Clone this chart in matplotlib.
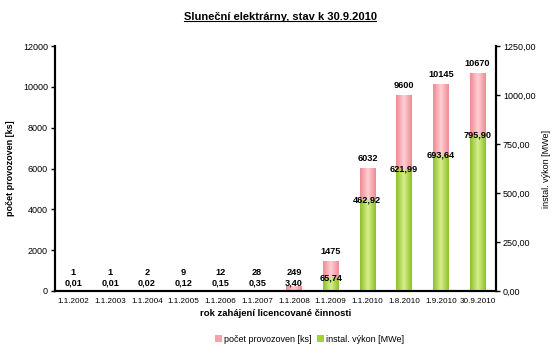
import matplotlib
matplotlib.use("Agg")
import matplotlib.pyplot as plt
import numpy as np
from matplotlib.ticker import FixedLocator, FuncFormatter
from matplotlib.colors import LinearSegmentedColormap
from matplotlib.patches import Patch

plt.rcParams['font.family'] = ['Liberation Sans', 'DejaVu Sans']

categories = ["1.1.2002", "1.1.2003", "1.1.2004", "1.1.2005", "1.1.2006", "1.1.2007",
              "1.1.2008", "1.1.2009", "1.1.2010", "1.8.2010", "1.9.2010", "30.9.2010"]
counts = [1, 1, 2, 9, 12, 28, 249, 1475, 6032, 9600, 10145, 10670]
power = [0.01, 0.01, 0.02, 0.12, 0.15, 0.35, 3.40, 65.74, 462.92, 621.99, 693.64, 795.90]

fig = plt.figure(figsize=(5.6, 3.56), dpi=100)
ax1 = fig.add_axes([55/560, 65/356, 441/560, 245/356])
ax2 = ax1.twinx()

x = np.arange(len(categories))
w = 0.42

pink_cmap = LinearSegmentedColormap.from_list("p", ["#EE8A94", "#FFD0D4", "#EE8A94"])
green_cmap = LinearSegmentedColormap.from_list("g", ["#8CBF26", "#D9F08E", "#8CBF26"])
grad = np.linspace(0, 1, 64).reshape(1, -1)

bars1 = ax1.bar(x, counts, width=w, color="#F5A3AA", zorder=2)
bars2 = ax2.bar(x, power, width=w, color="#A6D13E", zorder=2)

for ax, bars, cmap in ((ax1, bars1, pink_cmap), (ax2, bars2, green_cmap)):
    for b in bars:
        x0, y0 = b.get_x(), b.get_y()
        bw, bh = b.get_width(), b.get_height()
        if bh <= 0:
            continue
        im = ax.imshow(grad, extent=[x0, x0 + bw, y0, y0 + bh], cmap=cmap,
                       aspect='auto', zorder=2.1, interpolation='bicubic')
        im.set_clip_path(b)

ax1.set_xlim(-0.5, len(categories) - 0.5)
ax1.set_ylim(0, 12000)
ax2.set_ylim(0, 1250)

fs = 6.5
ax1.set_yticks(np.arange(0, 12001, 2000))
ax1.tick_params(axis='y', labelsize=fs, direction='out', length=3, width=1, pad=2)
ax2.set_yticks(np.arange(0, 1251, 250))
ax2.yaxis.set_major_formatter(FuncFormatter(lambda v, p: f"{v:.2f}".replace('.', ',')))
ax2.tick_params(axis='y', labelsize=fs, direction='out', length=3, width=1, pad=2)

ax1.xaxis.set_major_locator(FixedLocator(np.arange(-0.5, len(categories), 1)))
ax1.xaxis.set_minor_locator(FixedLocator(x))
ax1.set_xticklabels([])
ax1.set_xticklabels(categories, minor=True)
ax1.tick_params(axis='x', which='major', direction='out', length=3, width=1)
ax1.tick_params(axis='x', which='minor', length=0, labelsize=5.9, pad=5)
ax2.set_xticks([])

for ax in (ax1, ax2):
    ax.spines['top'].set_visible(False)
    for s in ('left', 'right', 'bottom'):
        ax.spines[s].set_linewidth(1.5)

ax1.set_ylabel("počet provozoven [ks]", fontsize=6.5, fontweight='bold', labelpad=6)
ax2.set_ylabel("instal. výkon [MWe]", fontsize=6.5, labelpad=5)
ax1.set_xlabel("rok zahájení licencované činnosti", fontsize=6.8, fontweight='bold', labelpad=3)

# value labels
for i in range(len(categories)):
    cy = max(counts[i] + 470, 900)
    ax1.text(x[i], cy, f"{counts[i]}", ha='center', va='center', fontsize=6.6,
             fontweight='bold', zorder=5)
    py = max(power[i], 41)
    ax2.text(x[i], py, f"{power[i]:.2f}".replace('.', ','), ha='center', va='center',
             fontsize=6.6, fontweight='bold', zorder=5)

# title with underline
t = fig.text(0.5, 1 - 17/356, "Sluneční elektrárny, stav k 30.9.2010", ha='center', va='center',
             fontsize=8, fontweight='bold')
fig.canvas.draw()
bb = t.get_window_extent().transformed(fig.transFigure.inverted())
fig.add_artist(plt.Line2D([bb.x0, bb.x1], [bb.y0 + 0.002, bb.y0 + 0.002], color='black',
                          lw=0.8, transform=fig.transFigure))

# legend
handles = [Patch(facecolor="#F5A3AA", edgecolor="none", label="počet provozoven [ks]"),
           Patch(facecolor="#A6D13E", edgecolor="none", label="instal. výkon [MWe]")]
fig.legend(handles=handles, loc='center', bbox_to_anchor=(310/560, 1 - 339/356), ncol=2,
           frameon=False, fontsize=6.5, handlelength=0.7, handleheight=0.7,
           handletextpad=0.3, columnspacing=0.6)

fig.savefig("out.png", dpi=100)
